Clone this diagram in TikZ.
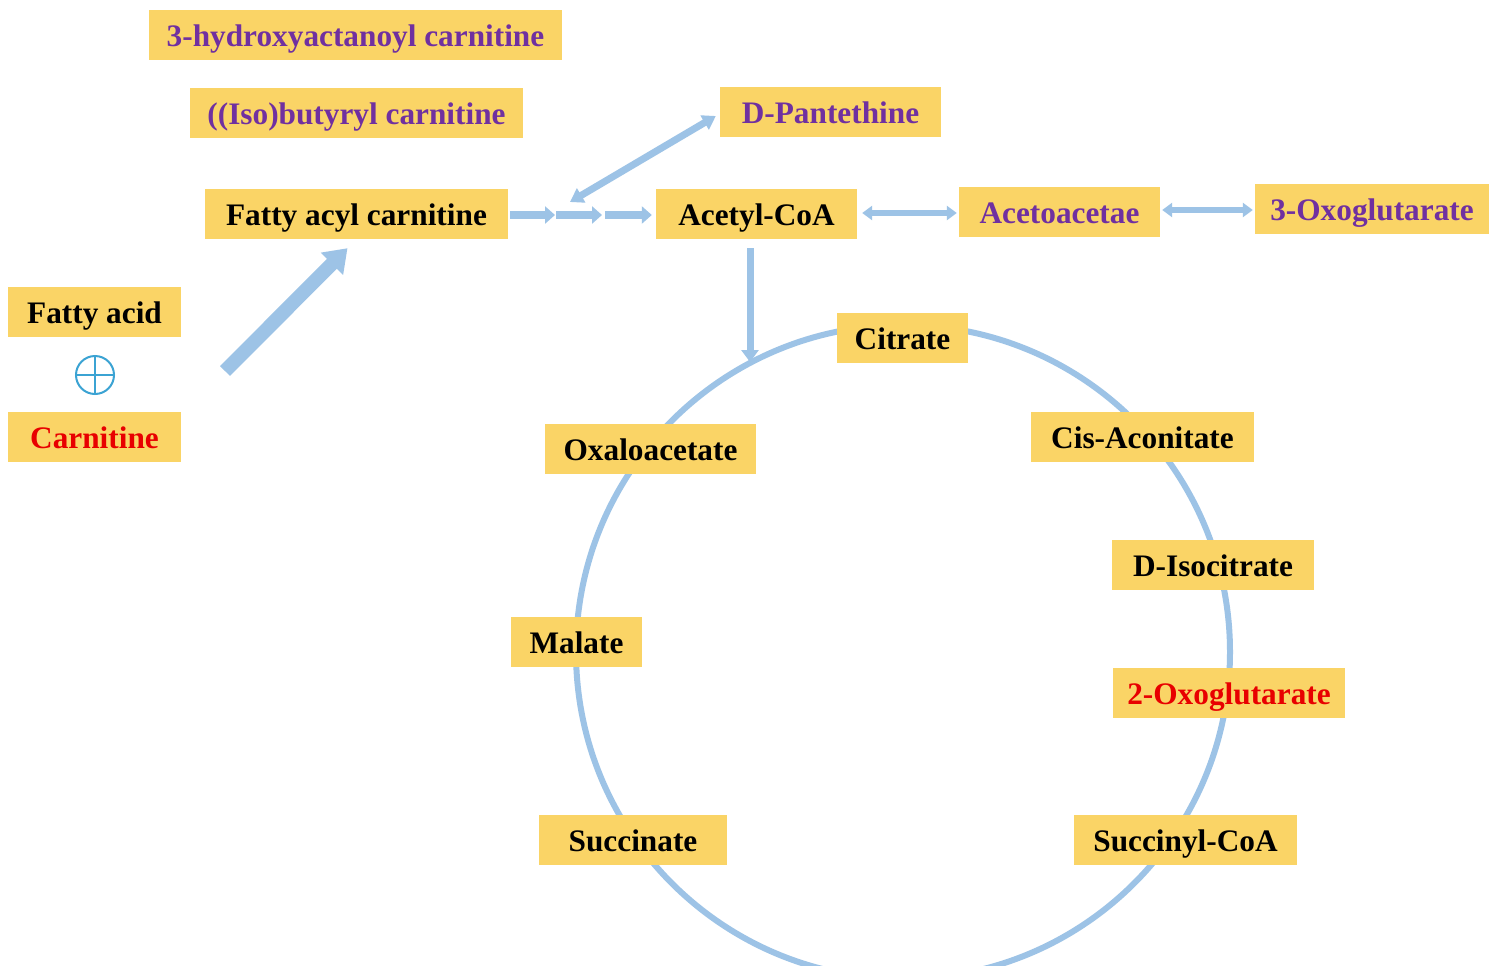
\documentclass[tikz,border=0pt]{standalone}
\usepackage{fontspec}
\setmainfont{Liberation Serif}
\usetikzlibrary{arrows.meta,calc}
\definecolor{boxfill}{HTML}{FAD466}
\definecolor{arrblue}{HTML}{9DC3E6}
\definecolor{mpurple}{HTML}{7030A0}
\definecolor{mred}{HTML}{E80000}
\definecolor{plusblue}{HTML}{3BA3D3}
\begin{document}
\begin{tikzpicture}[x=1pt,y=-1pt,
  box/.style={fill=boxfill,draw=none,font=\fontsize{31.3}{31}\selectfont\bfseries,
    text height=25pt,text depth=2pt,inner xsep=0pt,inner ysep=11.5pt,align=center},
  arr/.style={draw=arrblue,line width=#1},
  arr/.default=7pt
]
\useasboundingbox (0,0) rectangle (1499,966);
\fill[white] (0,0) rectangle (1499,966);

% TCA cycle circle
\draw[arrblue,line width=6pt] (903,652) circle[radius=327];

% nodes
\node[box,minimum width=413,text=mpurple] (h3) at (355.5,35) {3-hydroxyactanoyl carnitine};
\node[box,minimum width=333,text=mpurple] (iso) at (356.5,113) {((Iso)butyryl carnitine};
\node[box,minimum width=221,text=mpurple] (pant) at (830.5,112) {D-Pantethine};
\node[box,minimum width=303] (fac) at (356.5,214) {Fatty acyl carnitine};
\node[box,minimum width=201] (acoa) at (756.5,214) {Acetyl-CoA};
\node[box,minimum width=201,text=mpurple] (aceto) at (1059.5,211.5) {Acetoacetae};
\node[box,minimum width=234,text=mpurple] (oxo3) at (1372,208.5) {3-Oxoglutarate};
\node[box,minimum width=173] (fa) at (94.5,312) {Fatty acid};
\node[box,minimum width=173,text=mred] (carn) at (94.5,436.5) {Carnitine};
\node[box,minimum width=131] (cit) at (902.5,337.5) {Citrate};
\node[box,minimum width=223] (cis) at (1142.5,436.5) {Cis-Aconitate};
\node[box,minimum width=211] (oxa) at (650.5,448.5) {Oxaloacetate};
\node[box,minimum width=202] (isoc) at (1213,564.5) {D-Isocitrate};
\node[box,minimum width=131] (mal) at (576.5,641.5) {Malate};
\node[box,minimum width=232,text=mred] (oxo2) at (1229,692.5) {2-Oxoglutarate};
\node[box,minimum width=188] (succ) at (633,839.5) {Succinate};
\node[box,minimum width=223] (succoa) at (1185.5,839.5) {Succinyl-CoA};

% plus symbol
\node[circle,draw=plusblue,line width=2pt,minimum size=38pt,inner sep=0pt] (plus) at (95,375) {};
\draw[plusblue,line width=2pt] (plus.north) -- (plus.south) (plus.west) -- (plus.east);

% coordinates
\coordinate (fastart) at (225,371);
\coordinate (c1) at (555,215);
\coordinate (c2) at (602,215);
\coordinate (pj) at (570,202);
\coordinate (cdown) at (750,362);

% thick arrow fatty acid -> fatty acyl carnitine
\draw[arr=14pt,-{Triangle[width=30pt,length=22pt]}] (fastart) -- ($(fac.south)+(-9,9)$);

% chain of arrows to acetyl-CoA
\draw[arr=8pt,-{Triangle[width=17pt,length=10pt]}] ($(fac.east)+(2,1)$) -- (c1);
\draw[arr=8pt,-{Triangle[width=17pt,length=10pt]}] ($(c1)+(1,0)$) -- (c2);
\draw[arr=8pt,-{Triangle[width=17pt,length=10pt]}] ($(c2)+(3,0)$) -- ($(acoa.west)+(-4,1)$);

% D-Pantethine double arrow
\draw[arr=7pt,{Triangle[width=16pt,length=13pt]}-{Triangle[width=16pt,length=13pt]}] (pj) -- ($(pant.west)+(-4,4)$);

% Acetyl-CoA <-> Acetoacetae <-> 3-Oxoglutarate
\draw[arr=6pt,{Triangle[width=14pt,length=10pt]}-{Triangle[width=14pt,length=10pt]}] ($(acoa.east)+(5,-1)$) -- ($(aceto.west)+(-2,1.5)$);
\draw[arr=6pt,{Triangle[width=14pt,length=10pt]}-{Triangle[width=14pt,length=10pt]}] ($(aceto.east)+(2,-1.5)$) -- ($(oxo3.west)+(-2,1.5)$);

% Acetyl-CoA -> cycle
\draw[arr=7pt,-{Triangle[width=17pt,length=12pt]}] ($(acoa.south)+(-6.5,9)$) -- (cdown);
\end{tikzpicture}
\end{document}
